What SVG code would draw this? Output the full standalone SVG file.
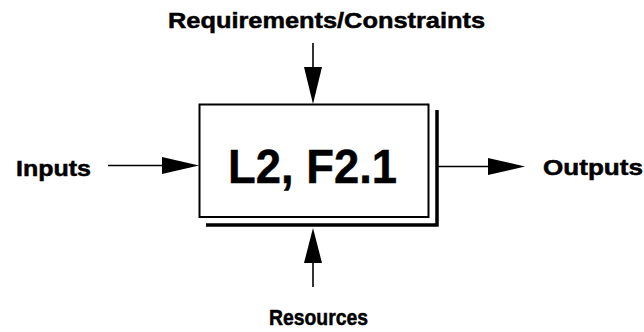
<svg xmlns="http://www.w3.org/2000/svg" width="644" height="332" viewBox="0 0 644 332">
  <style>
    .lbl { font-family: "Liberation Sans", Arial, Helvetica, sans-serif; font-weight: bold; fill: #000; stroke: #000; stroke-width: 0.5; }
    .line { stroke: #000; stroke-width: 1.6; fill: none; }
    .head { fill: #000; stroke: none; }
  </style>
  <rect width="644" height="332" fill="#fff"/>

  <!-- function block with drop shadow -->
  <g id="function-block">
    <path d="M206,225 H437 V110" fill="none" stroke="#000" stroke-width="3.5"/>
    <rect x="199.5" y="104.5" width="229" height="112.5" fill="#fff" stroke="#000" stroke-width="2"/>
    <text class="lbl" x="228" y="183" font-size="49" textLength="169" lengthAdjust="spacingAndGlyphs">L2, F2.1</text>
  </g>

  <g id="requirements">
    <text class="lbl" x="168" y="28" font-size="22" textLength="317" lengthAdjust="spacingAndGlyphs">Requirements/Constraints</text>
  </g>
  <g id="inputs">
    <text class="lbl" x="16" y="176" font-size="22" textLength="75" lengthAdjust="spacingAndGlyphs">Inputs</text>
  </g>
  <g id="outputs">
    <text class="lbl" x="543" y="175" font-size="22" textLength="100" lengthAdjust="spacingAndGlyphs">Outputs</text>
  </g>
  <g id="resources">
    <text class="lbl" x="269" y="325" font-size="22" textLength="99" lengthAdjust="spacingAndGlyphs">Resources</text>
  </g>

  <!-- connectors -->
  <g id="connectors">
    <line class="line" x1="313" y1="43" x2="313" y2="70"/>
    <polygon class="head" points="304,67 322,67 313,104"/>

    <line class="line" x1="108" y1="165.5" x2="165" y2="165.5"/>
    <polygon class="head" points="162,157 162,174 199,165.5"/>

    <line class="line" x1="438" y1="166.5" x2="491" y2="166.5"/>
    <polygon class="head" points="488,158 488,175 525,166.5"/>

    <line class="line" x1="313" y1="260" x2="313" y2="287"/>
    <polygon class="head" points="304,263 322,263 313,228"/>
  </g>
</svg>
